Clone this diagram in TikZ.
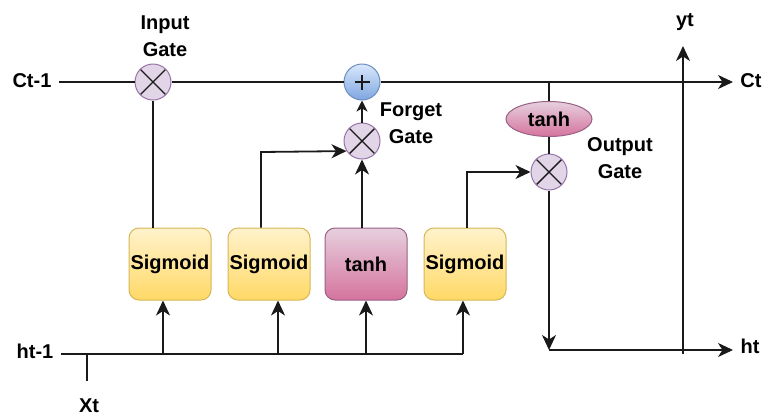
\documentclass[tikz,border=0pt]{standalone}
\usepackage{fontspec}
\setmainfont{Liberation Sans}
\usetikzlibrary{arrows.meta,shapes.geometric,calc}
\definecolor{lineC}{HTML}{1A1A1A}
\definecolor{gateFill}{HTML}{E1D5E7}
\definecolor{gateDraw}{HTML}{9673A6}
\definecolor{plusTop}{HTML}{DAE8FC}
\definecolor{plusBot}{HTML}{7EA6E0}
\definecolor{plusDraw}{HTML}{6C8EBF}
\definecolor{sigTop}{HTML}{FFF2CC}
\definecolor{sigBot}{HTML}{FFD966}
\definecolor{sigDraw}{HTML}{D6B656}
\definecolor{tanhTop}{HTML}{E6D0DE}
\definecolor{tanhBot}{HTML}{D5739D}
\definecolor{tanhDraw}{HTML}{996185}
\begin{document}
\begin{tikzpicture}[x=1pt,y=-1pt,
  conn/.style={draw=lineC, line width=1.8pt},
  arr/.style={conn, -{Stealth[length=15pt,width=14pt,inset=4.5pt]}},
  sarr/.style={conn, -{Stealth[length=11pt,width=11pt,inset=3pt]}},
  lbl/.style={font=\fontsize{20}{27}\selectfont\bfseries, align=center, inner sep=0pt, text=black},
  mulgate/.style={circle, minimum size=36pt, inner sep=0pt, fill=gateFill, draw=gateDraw, line width=1pt,
    path picture={\draw[lineC, line width=1.4pt] (path picture bounding box.north west) -- (path picture bounding box.south east) (path picture bounding box.north east) -- (path picture bounding box.south west);}},
  plusgate/.style={circle, minimum size=36pt, inner sep=0pt, top color=plusTop, bottom color=plusBot, draw=plusDraw, line width=1pt},
  sigbox/.style={rounded corners=10pt, minimum width=82pt, minimum height=72pt, inner sep=0pt, draw=sigDraw, top color=sigTop, bottom color=sigBot, line width=1pt, font=\fontsize{20}{24}\selectfont\bfseries},
  tanhbox/.style={rounded corners=10pt, minimum width=82pt, minimum height=72pt, inner sep=0pt, draw=tanhDraw, top color=tanhTop, bottom color=tanhBot, line width=1pt, font=\fontsize{20}{24}\selectfont\bfseries},
  tanhell/.style={ellipse, minimum width=86pt, minimum height=35pt, inner sep=0pt, draw=tanhDraw, top color=tanhTop, bottom color=tanhBot, line width=1pt, font=\fontsize{20}{24}\selectfont\bfseries}
]
\useasboundingbox (0,0) rectangle (763,416);

% operator nodes
\node[mulgate] (gin) at (153,82) {};
\node[plusgate] (plus) at (362,82) {};
\node[mulgate] (gf) at (362,141) {};
\node[tanhell] (te) at (549,119) {tanh};
\node[mulgate] (gout) at (549,172) {};
\draw[lineC, line width=1.3pt] (plus.center) +(-7.5,0) -- +(7.5,0);
\draw[lineC, line width=1.3pt] (plus.center) +(0,-7.5) -- +(0,7.5);

% boxes
\node[sigbox] (s1) at (170,264) {Sigmoid};
\node[sigbox] (s2) at (269,264) {Sigmoid};
\node[tanhbox] (tb) at (366,264) {tanh};
\node[sigbox] (s3) at (465,264) {Sigmoid};

% labels
\node[lbl] (lin) at (165,36) {Input\\Gate};
\node[lbl] (lfg) at (411,123) {Forget\\Gate};
\node[lbl] (log) at (620,158) {Output\\Gate};
\node[lbl] (lct1) at (32,81) {Ct-1};
\node[lbl] (lct) at (751,81) {Ct};
\node[lbl] (lyt) at (685,22) {yt};
\node[lbl] (lht1) at (35,351) {ht-1};
\node[lbl] (lht) at (750,346) {ht};
\node[lbl] (lxt) at (89,406) {Xt};

% coordinates
\coordinate (ct1start) at (59,82);
\coordinate (ctend) at (733,82);
\coordinate (ytend) at (683,46);
\coordinate (ytbot) at (683,354);
\coordinate (hcorner) at (549,350);
\coordinate (htend) at (733,350);
\coordinate (h1start) at (61,354);
\coordinate (h1end) at (463,354);
\coordinate (xttop) at (87,354);
\coordinate (xtbot) at (87,381);
\coordinate (s2turn) at (261,152);
\coordinate (s3turn) at (467,172);
\coordinate (a1) at (163,354);
\coordinate (a2) at (278,354);
\coordinate (a3) at (366,354);

% cell state line
\draw[conn] (ct1start) -- (gin);
\draw[conn] (gin) -- (plus);
\draw[arr] (plus) -- (ctend);

% gate connections
\draw[conn] (gin |- s1.north) -- (gin);
\draw[arr] (s2turn |- s2.north) -- (s2turn) -- (gf.213);
\draw[arr] (gf |- tb.north) -- (gf);
\draw[sarr] (gf) -- (plus);
\draw[arr] (s3turn |- s3.north) -- (s3turn) -- (gout);
\draw[conn] (te.north |- plus) -- (te);
\draw[conn] (te) -- (gout);
\draw[arr] (gout) -- (hcorner);
\draw[arr] (hcorner) -- (htend);
\draw[arr] (ytbot) -- (ytend);

% input line
\draw[conn] (h1start) -- (h1end);
\draw[arr] (h1end) -- (h1end |- s3.south);
\draw[arr] (a1) -- (a1 |- s1.south);
\draw[arr] (a2) -- (a2 |- s2.south);
\draw[arr] (a3) -- (tb);
\draw[conn] (xttop) -- (xtbot);
\end{tikzpicture}
\end{document}
